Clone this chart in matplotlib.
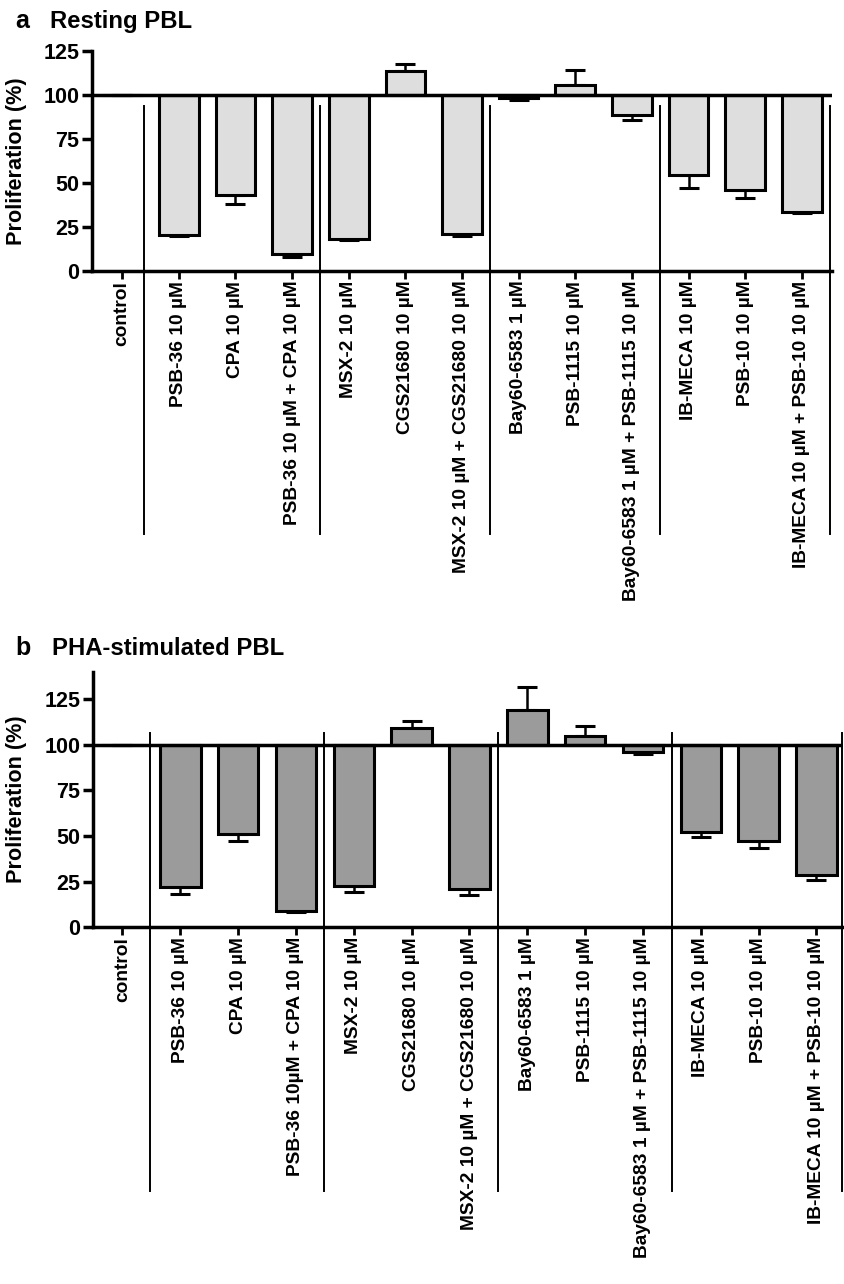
import numpy as np
import matplotlib
matplotlib.use("Agg")
import matplotlib.pyplot as plt

plt.rcParams['font.family'] = ['Liberation Sans', 'DejaVu Sans']
plt.rcParams['font.weight'] = 'bold'

labels_a = ["control", "PSB-36 10 µM", "CPA 10 µM", "PSB-36 10 µM + CPA 10 µM",
            "MSX-2 10 µM", "CGS21680 10 µM", "MSX-2 10 µM + CGS21680 10 µM",
            "Bay60-6583 1 µM", "PSB-1115 10 µM", "Bay60-6583 1 µM + PSB-1115 10 µM",
            "IB-MECA 10 µM", "PSB-10 10 µM", "IB-MECA 10 µM + PSB-10 10 µM"]
labels_b = ["control", "PSB-36 10 µM", "CPA 10 µM", "PSB-36 10µM + CPA 10 µM",
            "MSX-2 10 µM", "CGS21680 10 µM", "MSX-2 10 µM + CGS21680 10 µM",
            "Bay60-6583 1 µM", "PSB-1115 10 µM", "Bay60-6583 1 µM + PSB-1115 10 µM",
            "IB-MECA 10 µM", "PSB-10 10 µM", "IB-MECA 10 µM + PSB-10 10 µM"]

vals_a = [100, 20.4, 43.3, 9.5, 17.9, 113.7, 20.8, 98.2, 105.5, 88.6, 54.3, 46.1, 33.7]
err_a = [0, 0.6, 5.4, 1.5, 0.5, 3.8, 0.7, 0.8, 8.5, 3.0, 7.4, 4.6, 0.9]

vals_b = [100, 21.9, 51.2, 8.9, 22.7, 109.2, 20.8, 119.0, 104.8, 96.0, 52.3, 47.3, 28.7]
err_b = [0, 3.8, 3.9, 0.7, 3.5, 3.6, 3.2, 12.4, 5.2, 1.0, 2.8, 3.8, 2.7]

yticks = [0, 25, 50, 75, 100, 125]

W, H = 844, 1284
fig = plt.figure(figsize=(W / 100, H / 100), dpi=100)


def axes_px(left, top, right, bottom):
    return fig.add_axes([left / W, 1 - bottom / H, (right - left) / W, (bottom - top) / H])


def draw_panel(ax, labels, vals, errs, color, ylim_top, xlim, seps, sep_top, sep_bottom):
    vals = np.asarray(vals, dtype=float)
    errs = np.asarray(errs, dtype=float)
    x = np.arange(len(vals))
    ax.bar(x, vals - 100, bottom=100, width=0.7, color=color, edgecolor='black',
           linewidth=2.2, zorder=3)
    lower = np.where(vals < 100, errs, 0)
    upper = np.where(vals >= 100, errs, 0)
    ax.errorbar(x, vals, yerr=[lower, upper], fmt='none', ecolor='black',
                elinewidth=1.8, capsize=7.5, capthick=2.2, zorder=2)
    ax.axhline(100, color='black', linewidth=2.5, zorder=4)
    for s in seps:
        ax.plot([s, s], [sep_top, sep_bottom], color='black', linewidth=1.4,
                clip_on=False, zorder=1)
    ax.set_xlim(*xlim)
    ax.set_ylim(0, ylim_top)
    ax.set_xticks(x)
    ax.set_xticklabels(labels, rotation=90, fontsize=13.8, fontweight='bold',
                       ha='center', va='top')
    ax.set_yticks(yticks)
    ax.set_yticklabels([str(t) for t in yticks], fontsize=15.5, fontweight='bold')
    ax.tick_params(axis='y', direction='out', length=7, width=2.5, pad=2)
    ax.tick_params(axis='x', direction='out', length=6, width=2, pad=1)
    for sp in ['top', 'right']:
        ax.spines[sp].set_visible(False)
    for sp in ['left', 'bottom']:
        ax.spines[sp].set_linewidth(2.5)
    ax.set_ylabel("Proliferation (%)", fontsize=15.6, fontweight='bold')
    ax.yaxis.set_label_coords(-0.088, 0.5)


ax1 = axes_px(92, 51, 832, 271)
draw_panel(ax1, labels_a, vals_a, err_a, '#dedede', 125, (-0.53, 12.53),
           [0.38, 3.5, 6.5, 9.5, 12.5], 93.5, -149.6)

ax2 = axes_px(93, 671.7, 843, 927.3)
draw_panel(ax2, labels_b, vals_b, err_b, '#9b9b9b', 140, (-0.51, 12.46),
           [0.47, 3.48, 6.5, 9.5, 12.45], 106.4, -144.6)

fig.text(15 / W, 1 - 28.3 / H, "a", fontsize=18, fontweight='bold', va='baseline')
fig.text(50 / W, 1 - 28.3 / H, "Resting PBL", fontsize=17.2, fontweight='bold', va='baseline')
fig.text(15 / W, 1 - 655 / H, "b", fontsize=18, fontweight='bold', va='baseline')
fig.text(52 / W, 1 - 655 / H, "PHA-stimulated PBL", fontsize=17.2, fontweight='bold', va='baseline')

fig.savefig("out.png", dpi=100)
